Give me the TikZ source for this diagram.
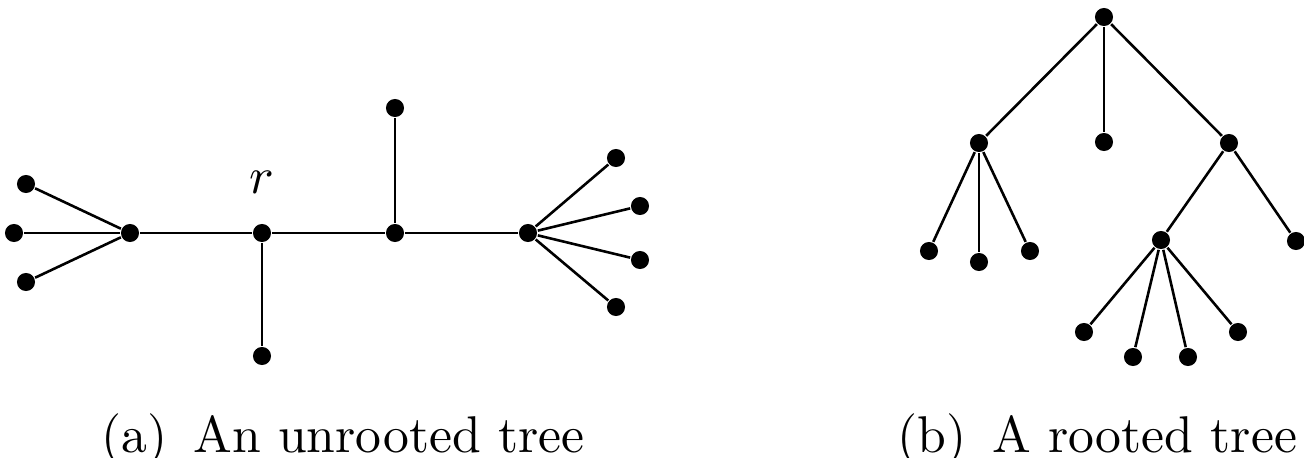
\documentclass[tikz,border=0pt]{standalone}
\usepackage{tikz}

\tikzset{
    vtx/.style={circle, fill=black, inner sep=0pt, minimum size=3.5pt},
    edge/.style={black, line width=0.5pt},
    capt/.style={anchor=base, inner sep=0pt, font=\normalsize}
}

\begin{document}
\begin{tikzpicture}[x=0.068mm, y=-0.068mm]
    \useasboundingbox (0,0) rectangle (1304,458);

    % (a) unrooted tree
    \node[vtx] (la) at (26,184) {};
    \node[vtx] (lb) at (14,233) {};
    \node[vtx] (lc) at (26,282) {};
    \node[vtx] (hubl) at (130,233) {};
    \node[vtx] (r) at (262,233) {};
    \node[vtx] (rdown) at (262,356) {};
    \node[vtx] (mid) at (395,233) {};
    \node[vtx] (midup) at (395,108) {};
    \node[vtx] (hubr) at (528,233) {};
    \node[vtx] (ra) at (616,158) {};
    \node[vtx] (rb) at (640,206) {};
    \node[vtx] (rc) at (640,260) {};
    \node[vtx] (rd) at (616,307) {};
    \node[anchor=base, inner sep=0pt] (rlabel) at (262,193) {$r$};

    \draw[edge] (la) -- (hubl);
    \draw[edge] (lb) -- (hubl);
    \draw[edge] (lc) -- (hubl);
    \draw[edge] (hubl) -- (r);
    \draw[edge] (r) -- (rdown);
    \draw[edge] (r) -- (mid);
    \draw[edge] (mid) -- (midup);
    \draw[edge] (mid) -- (hubr);
    \draw[edge] (hubr) -- (ra);
    \draw[edge] (hubr) -- (rb);
    \draw[edge] (hubr) -- (rc);
    \draw[edge] (hubr) -- (rd);

    % (b) rooted tree
    \node[vtx] (root) at (1104,17) {};
    \node[vtx] (kl) at (979,143) {};
    \node[vtx] (km) at (1104,142) {};
    \node[vtx] (kr) at (1229,143) {};
    \node[vtx] (kla) at (929,251) {};
    \node[vtx] (klb) at (979,262) {};
    \node[vtx] (klc) at (1030,251) {};
    \node[vtx] (kra) at (1161,240) {};
    \node[vtx] (krb) at (1296,241) {};
    \node[vtx] (gca) at (1084,332) {};
    \node[vtx] (gcb) at (1133,357) {};
    \node[vtx] (gcc) at (1188,357) {};
    \node[vtx] (gcd) at (1238,332) {};

    \draw[edge] (root) -- (kl);
    \draw[edge] (root) -- (km);
    \draw[edge] (root) -- (kr);
    \draw[edge] (kl) -- (kla);
    \draw[edge] (kl) -- (klb);
    \draw[edge] (kl) -- (klc);
    \draw[edge] (kr) -- (kra);
    \draw[edge] (kr) -- (krb);
    \draw[edge] (kra) -- (gca);
    \draw[edge] (kra) -- (gcb);
    \draw[edge] (kra) -- (gcc);
    \draw[edge] (kra) -- (gcd);

    % captions
    \node[capt] (capa) at (343,452) {(a)\enspace An unrooted tree};
    \node[capt, anchor=base east] (capb) at (1298,452) {(b)\enspace A rooted tree};
\end{tikzpicture}
\end{document}
